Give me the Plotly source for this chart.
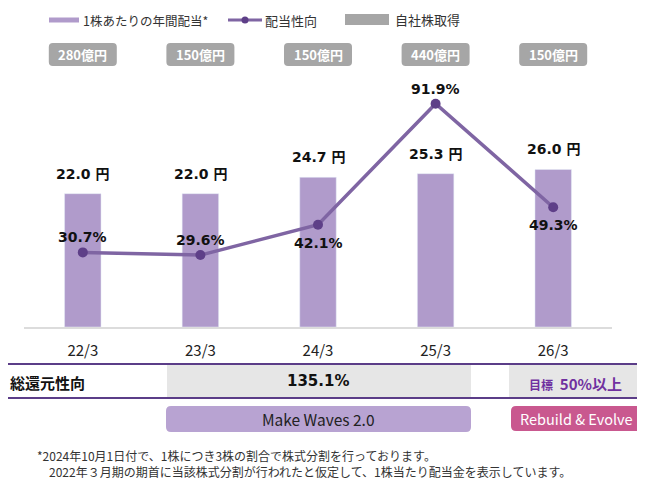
import plotly.graph_objects as go

# data
periods = ['22/3', '23/3', '24/3', '25/3', '26/3']
dividend_yen = [22.0, 22.0, 24.7, 25.3, 26.0]
payout_pct = [30.7, 29.6, 42.1, 91.9, 49.3]
buyback_oku = [280, 150, 150, 440, 150]
payout_label_pos = ['above', 'above', 'below', 'above', 'below']
total_return_text = '135.1%'

BAR = '#b09bcb'
LINE = '#7f65a3'
MARK = '#5e3f88'
GREY = '#a6a6a6'
DARKP = '#5b3d88'
JP = 'Noto Sans CJK JP, Noto Sans, sans-serif'
NUM = 'DejaVu Sans, Noto Sans CJK JP, sans-serif'

OFF = 8  # page body margin
W, H = 645 - OFF, 485 - OFF
L, R, T, B = 16, 33, 62, 158
PW, PH = W - L - R, H - T - B


def px(x):
    # reference-pixel x -> paper
    return (x - OFF - L) / PW


def py(y):
    # reference-pixel y -> paper
    return (H - B - (y - OFF)) / PH


def rrect(x0, y0, x1, y1, r=4):
    a, b, c, d = px(x0), px(x1), py(y0), py(y1)
    rx, ry = r / PW, r / PH
    return (f'M{a+rx},{c} L{b-rx},{c} Q{b},{c} {b},{c-ry} L{b},{d+ry} Q{b},{d} {b-rx},{d} '
            f'L{a+rx},{d} Q{a},{d} {a},{d+ry} L{a},{c-ry} Q{a},{c} {a+rx},{c} Z')


def label(x, y, text, font, xanchor='center'):
    return dict(x=px(x), y=py(y), xref='paper', yref='paper', text=text, showarrow=False,
                xanchor=xanchor, yanchor='middle', font=font)


fig = go.Figure()
fig.add_trace(go.Bar(x=periods, y=dividend_yen, marker_color=BAR, width=0.31,
                     showlegend=False, hoverinfo='skip'))
fig.add_trace(go.Scatter(x=periods, y=payout_pct, yaxis='y2', mode='lines+markers',
                         line=dict(color=LINE, width=3.5),
                         marker=dict(color=MARK, size=10), showlegend=False,
                         cliponaxis=False, hoverinfo='skip'))

ann = []
shapes = []

# bar value labels
for p, v in zip(periods, dividend_yen):
    ann.append(dict(x=p, y=v, xref='x', yref='y', text=f'<b>{v:.1f} 円</b>', showarrow=False,
                    yshift=20, font=dict(family=NUM, size=14, color='#111')))

# payout labels
for p, v, pos in zip(periods, payout_pct, payout_label_pos):
    ann.append(dict(x=p, y=v, xref='x', yref='y2', text=f'<b>{v:.1f}%</b>', showarrow=False,
                    yshift=15 if pos == 'above' else -18,
                    font=dict(family=NUM, size=14, color='#111')))

# buyback boxes
step = PW / len(periods)
for i, b in enumerate(buyback_oku):
    cx = OFF + L + step * (i + 0.5)
    shapes.append(dict(type='path', xref='paper', yref='paper', path=rrect(cx - 34, 43, cx + 34, 66),
                       fillcolor=GREY, line_width=0))
    ann.append(label(cx, 54.5, f'<b>{b}億円</b>', dict(family=JP, size=13, color='white')))

# legend
shapes.append(dict(type='rect', xref='paper', yref='paper', x0=px(49), x1=px(79), y0=py(17.5), y1=py(22.5),
                   fillcolor=BAR, line_width=0))
ann.append(label(81, 20, '1株あたりの年間配当*', dict(family=JP, size=12.5, color='#333'), 'left'))
shapes.append(dict(type='line', xref='paper', yref='paper', x0=px(228), x1=px(262), y0=py(20), y1=py(20),
                   line=dict(color=LINE, width=3)))
shapes.append(dict(type='circle', xref='paper', yref='paper', x0=px(241.5), x1=px(248.5),
                   y0=py(16.5), y1=py(23.5), fillcolor=MARK, line_width=0))
ann.append(label(263, 20, '配当性向', dict(family=JP, size=13, color='#333'), 'left'))
shapes.append(dict(type='rect', xref='paper', yref='paper', x0=px(345), x1=px(389), y0=py(14), y1=py(25),
                   fillcolor=GREY, line_width=0))
ann.append(label(393, 19, '自社株取得', dict(family=JP, size=13, color='#333'), 'left'))

# total return table
shapes.append(dict(type='rect', xref='paper', yref='paper', x0=px(167), x1=px(471), y0=py(364), y1=py(398),
                   fillcolor='#e6e6e6', line_width=0, layer='below'))
shapes.append(dict(type='rect', xref='paper', yref='paper', x0=px(509), x1=px(640), y0=py(364), y1=py(398),
                   fillcolor='#e6e6e6', line_width=0, layer='below'))
for yy in (364, 398):
    shapes.append(dict(type='line', xref='paper', yref='paper', x0=px(0), x1=px(640), y0=py(yy), y1=py(yy),
                       line=dict(color=DARKP, width=2)))
ann.append(label(8, 382, '<b>総還元性向</b>', dict(family=JP, size=15, color='#111'), 'left'))
ann.append(label(318, 381, f'<b>{total_return_text}</b>', dict(family=NUM, size=15, color='#111')))
ann.append(label(575, 383, "<b><span style='font-size:12px'>目標</span>  50%以上</b>",
                 dict(family=JP, size=15, color='#7030a0')))

# mid-term plan boxes
shapes.append(dict(type='path', xref='paper', yref='paper', path=rrect(166, 406, 471, 432, 5),
                   fillcolor='#b8a3d2', line_width=0))
ann.append(label(318.5, 419, 'Make Waves 2.0', dict(family=JP, size=15.5, color='#222')))
shapes.append(dict(type='path', xref='paper', yref='paper', path=rrect(511, 406, 641, 431, 5),
                   fillcolor='#c9588f', line_width=0))
ann.append(label(576, 418.5, 'Rebuild & Evolve', dict(family=JP, size=14.5, color='white')))

# footnote
foot = ('*2024年10月1日付で、1株につき3株の割合で株式分割を行っております。<br>'
        '\u30002022年３月期の期首に当該株式分割が行われたと仮定して、1株当たり配当金を表示しています。')
f = label(35, 463, foot, dict(family=JP, size=12, color='#333'), 'left')
f['align'] = 'left'
ann.append(f)

fig.update_layout(
    width=W, height=H, margin=dict(l=L, r=R, t=T, b=B),
    paper_bgcolor='white', plot_bgcolor='white',
    xaxis=dict(type='category', range=[-0.5, 4.5], showline=True, linecolor='#dcdcdc', linewidth=2,
               showgrid=False, ticks='', ticklabelstandoff=9,
               tickfont=dict(family=JP, size=15, color='#222')),
    yaxis=dict(range=[0, PH / 6.06], visible=False),
    yaxis2=dict(range=[0, PH / 2.43], overlaying='y', visible=False),
    annotations=ann, shapes=shapes, showlegend=False,
)

fig.write_html('out.html')
